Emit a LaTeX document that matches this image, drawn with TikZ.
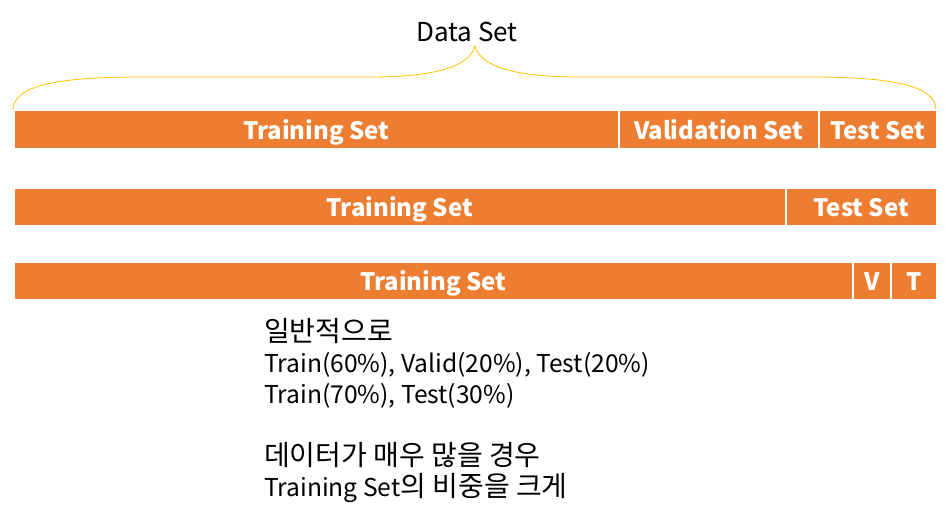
\documentclass[tikz,border=0pt]{standalone}
\usepackage{fontspec}
\setmainfont{Noto Sans CJK KR}
\definecolor{barorange}{HTML}{ED7D31}
\definecolor{bracegold}{HTML}{FFC000}
\newcommand\krtext[1]{{\fontsize{28}{31}\selectfont #1}}
\tikzset{
  x=1pt, y=-1pt,
  seg/.style={draw=white, line width=1.5pt, fill=barorange, anchor=north west, inner sep=0pt,
    minimum height=38pt, text=white, text height=20pt, text depth=0pt,
    font=\fontsize{24}{28}\selectfont\bfseries},
  note/.style={anchor=base west, inner sep=0pt, font=\fontsize{24.6}{31}\selectfont},
}
\begin{document}
\begin{tikzpicture}
\useasboundingbox (0,0) rectangle (948,516);
% brace
\node[font=\fontsize{26}{30}\selectfont, inner sep=0pt, anchor=base] (ds) at (467,42) {Data Set};
\coordinate (bl) at (13,110);
\coordinate (br) at (936,110);
\coordinate (tip) at (475,46);
\draw[bracegold, line width=0.8pt] (bl) .. controls (13,85) and (60,77) .. (140,77)
  -- (370,77) .. controls (440,77) and (470,65) .. (tip)
  .. controls (480,65) and (510,77) .. (580,77)
  -- (810,77) .. controls (890,77) and (936,85) .. (br);
% bar 1
\node[seg, minimum width=605pt] (a1) at (13,110) {Training Set};
\node[seg, minimum width=200pt] (a2) at (618,110) {Validation Set};
\node[seg, minimum width=118pt] (a3) at (818,110) {Test Set};
% bar 2
\node[seg, minimum width=772pt] (b1) at (13,187) {Training Set};
\node[seg, minimum width=151pt] (b2) at (785,187) {Test Set};
% bar 3
\node[seg, minimum width=839pt] (c1) at (13,261) {Training Set};
\node[seg, minimum width=38pt] (c2) at (852,261) {V};
\node[seg, minimum width=46pt] (c3) at (890,261) {T};
% notes
\node[note] (n1) at (264,341) {\krtext{일반적으로}};
\node[note] (n2) at (264,372) {Train(60\%), Valid(20\%), Test(20\%)};
\node[note] (n3) at (264,403) {Train(70\%), Test(30\%)};
\node[note] (n4) at (264,465) {\krtext{데이터가 매우 많을 경우}};
\node[note] (n5) at (264,496) {Training Set\krtext{의 비중을 크게}};
\end{tikzpicture}
\end{document}
